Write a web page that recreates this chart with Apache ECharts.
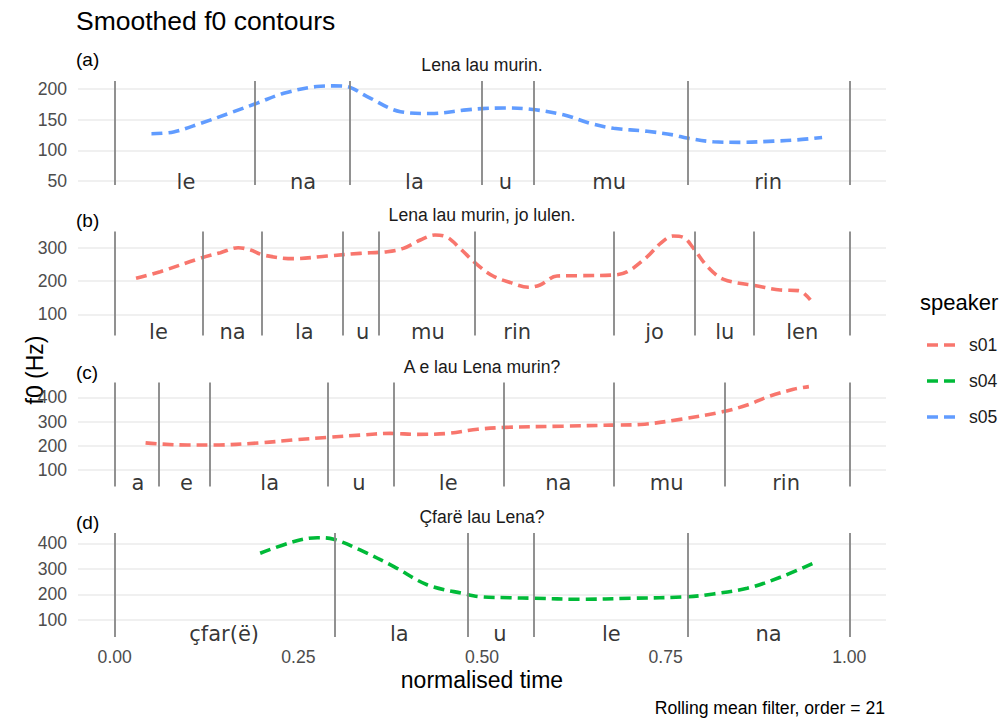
<!DOCTYPE html>
<html>
<head>
<meta charset="utf-8">
<title>Smoothed f0 contours</title>
<script src="https://cdn.jsdelivr.net/npm/echarts@6/dist/echarts.min.js"></script>
<style>
  html, body { margin: 0; padding: 0; background: #ffffff; }
  #chart { width: 1005px; height: 718px; }
</style>
</head>
<body>
<div id="chart"></div>
<script>
// ---- data -----------------------------------------------------------------
// speakers and their colours
const speakers = ['s01', 's04', 's05'];
const speakerColors = { s01: '#F8766D', s04: '#00BA38', s05: '#619CFF' };

// sentence of each panel
const sentences = ['Lena lau murin.', 'Lena lau murin, jo lulen.', 'A e lau Lena murin?', 'Çfarë lau Lena?'];
const panelTags = ['(a)', '(b)', '(c)', '(d)'];
const panelSpeakers = ['s05', 's01', 's01', 's04'];

// smoothed f0 contours: [normalised time, f0 in Hz]
const f0A = [[0.050,127],[0.080,130],[0.117,144],[0.162,163],[0.194,177],[0.230,193],[0.275,204],[0.298,205],[0.316,204],[0.343,188],[0.389,163],[0.430,160],[0.479,166],[0.500,168],[0.530,169],[0.566,167],[0.611,158],[0.647,144],[0.679,136],[0.725,131],[0.761,125],[0.779,120],[0.815,114],[0.852,113],[0.897,115],[0.929,117],[0.963,121]];
const f0B = [[0.029,208],[0.062,228],[0.116,268],[0.144,285],[0.168,300],[0.185,293],[0.202,278],[0.243,267],[0.289,275],[0.334,283],[0.371,288],[0.393,298],[0.416,323],[0.436,338],[0.453,331],[0.470,298],[0.493,250],[0.515,215],[0.539,195],[0.563,181],[0.579,188],[0.602,215],[0.634,216],[0.679,218],[0.698,228],[0.725,273],[0.743,313],[0.760,335],[0.774,331],[0.788,298],[0.807,243],[0.829,205],[0.875,185],[0.906,173],[0.931,171],[0.947,143]];
const f0C = [[0.042,212],[0.063,207],[0.099,203],[0.133,203],[0.198,212],[0.243,224],[0.291,235],[0.334,244],[0.375,251],[0.412,247],[0.453,251],[0.494,268],[0.533,276],[0.611,281],[0.675,285],[0.716,288],[0.770,309],[0.827,340],[0.861,368],[0.892,405],[0.924,433],[0.945,444]];
const f0D = [[0.198,361],[0.243,406],[0.276,422],[0.298,416],[0.334,374],[0.380,309],[0.426,237],[0.477,202],[0.498,191],[0.539,187],[0.571,185],[0.634,181],[0.702,185],[0.781,191],[0.815,202],[0.861,224],[0.906,267],[0.951,322]];

// syllable boundaries (normalised time)
const boundsA = [0, 0.194, 0.319, 0.497, 0.567, 0.779, 1.0];
const boundsB = [0, 0.119, 0.202, 0.314, 0.361, 0.492, 0.681, 0.789, 0.872, 1.0];
const boundsC = [0, 0.063, 0.132, 0.290, 0.375, 0.533, 0.675, 0.828, 1.0];
const boundsD = [0, 0.298, 0.477, 0.572, 0.780, 1.0];

// syllables: [label, onset, offset]
const syllA = [['le',0,0.194],['na',0.194,0.319],['la',0.319,0.497],['u',0.497,0.567],['mu',0.567,0.779],['rin',0.779,1.0]];
const syllB = [['le',0,0.119],['na',0.119,0.202],['la',0.202,0.314],['u',0.314,0.361],['mu',0.361,0.492],['rin',0.492,0.604],['jo',0.681,0.789],['lu',0.789,0.872],['len',0.872,1.0]];
const syllC = [['a',0,0.063],['e',0.063,0.132],['la',0.132,0.290],['u',0.290,0.375],['le',0.375,0.533],['na',0.533,0.675],['mu',0.675,0.828],['rin',0.828,1.0]];
const syllD = [['çfar(ë)',0,0.298],['la',0.298,0.477],['u',0.477,0.572],['le',0.572,0.780],['na',0.780,1.0]];

// height at which syllable labels sit (Hz)
const labelF0 = 50;

// tick labels
const yTicksA = [50, 100, 150, 200];
const yTicksB = [100, 200, 300];
const yTicksC = [100, 200, 300, 400];
const yTicksD = [100, 200, 300, 400];
const xTicks = [0, 0.25, 0.5, 0.75, 1.0];

// ---- layout ---------------------------------------------------------------
const SANS = '"Liberation Sans", Arial, Helvetica, sans-serif';
const SYL_FONT = '"DejaVu Sans", sans-serif';
const gridTops = [81, 231.5, 382.5, 533];
const gridHeight = 104;
const gridLeft = 78, gridRight = 119;
const yRanges = [[43.5, 213.0], [36.3, 348.6], [31.9, 461.1], [33.5, 440.3]];
const tagY = [59, 220, 372, 522];
const sentenceY = [65, 215, 367, 517];

const curves = [f0A, f0B, f0C, f0D];
const bounds = [boundsA, boundsB, boundsC, boundsD];
const sylls = [syllA, syllB, syllC, syllD];
const yTicks = [yTicksA, yTicksB, yTicksC, yTicksD];

const DASH = [11, 6];
// legend key: two dashes of the contour line
const DASH_ICON = 'path://M0,0H11V3.6H0Z M17,0H28V3.6H17Z';

const grids = [], xAxes = [], yAxes = [], series = [], titles = [];

titles.push({
  text: 'Smoothed f0 contours', left: 76, top: 7, padding: 0,
  textStyle: { fontFamily: SANS, fontSize: 26.5, fontWeight: 'normal', color: '#000000' }
});

for (let i = 0; i < 4; i++) {
  const last = i === 3;
  grids.push({ left: gridLeft, right: gridRight, top: gridTops[i], height: gridHeight, containLabel: false });
  xAxes.push({
    gridIndex: i, type: 'value', min: -0.05, max: 1.05,
    axisLine: { show: false }, splitLine: { show: false },
    axisTick: { show: false, customValues: xTicks },
    axisLabel: {
      show: last, customValues: xTicks, margin: 11,
      formatter: v => v.toFixed(2),
      color: '#4D4D4D', fontFamily: SANS, fontSize: 17.6
    },
    name: last ? 'normalised time' : '',
    nameLocation: 'middle', nameGap: 31,
    nameTextStyle: { fontFamily: SANS, fontSize: 23, color: '#000000' }
  });
  yAxes.push({
    gridIndex: i, type: 'value', min: yRanges[i][0], max: yRanges[i][1],
    axisLine: { show: false },
    axisTick: { show: false, customValues: yTicks[i] },
    axisLabel: { customValues: yTicks[i], margin: 11, color: '#4D4D4D', fontFamily: SANS, fontSize: 17.6 },
    splitLine: { show: true, lineStyle: { color: '#EBEBEB', width: 1.6 } }
  });

  // syllable labels and boundary lines
  series.push({
    type: 'scatter', xAxisIndex: i, yAxisIndex: i, silent: true,
    symbol: 'circle', symbolSize: 1, itemStyle: { color: 'rgba(0,0,0,0)' },
    data: sylls[i].map(s => ({ name: s[0], value: [(s[1] + s[2]) / 2, labelF0] })),
    label: {
      show: true, position: 'inside', formatter: p => p.name, offset: [0, 1],
      fontFamily: SYL_FONT, fontSize: 21, color: '#000000'
    },
    markLine: {
      silent: true, symbol: ['none', 'none'], animation: false,
      label: { show: false },
      lineStyle: { color: '#858585', width: 1.8, type: 'solid' },
      data: bounds[i].map(b => ({ xAxis: b }))
    },
    z: 3
  });

  // f0 contour
  const spk = panelSpeakers[i];
  series.push({
    name: spk, type: 'line', xAxisIndex: i, yAxisIndex: i,
    data: curves[i], smooth: 0.35, symbol: 'none', showSymbol: false,
    color: speakerColors[spk],
    itemStyle: { color: speakerColors[spk] },
    lineStyle: { color: speakerColors[spk], width: 3.6, type: DASH, cap: 'butt' },
    z: 4
  });

  titles.push({
    text: panelTags[i], left: 76, top: tagY[i] - 9.5, padding: 0,
    textStyle: { fontFamily: SANS, fontSize: 19, fontWeight: 'normal', color: '#000000' }
  });
  titles.push({
    text: sentences[i], left: gridLeft + (1005 - gridLeft - gridRight) / 2, top: sentenceY[i] - 9,
    textAlign: 'center', padding: 0,
    textStyle: { fontFamily: SANS, fontSize: 17.6, fontWeight: 'normal', color: '#1A1A1A' }
  });
}

titles.push({
  text: 'speaker', left: 920, top: 291, padding: 0,
  textStyle: { fontFamily: SANS, fontSize: 22, fontWeight: 'normal', color: '#000000' }
});
titles.push({
  text: 'Rolling mean filter, order = 21', right: 1005 - 885, top: 699, padding: 0,
  textStyle: { fontFamily: SANS, fontSize: 17.6, fontWeight: 'normal', color: '#000000' }
});

const option = {
  animation: false,
  backgroundColor: '#ffffff',
  title: titles,
  grid: grids,
  xAxis: xAxes,
  yAxis: yAxes,
  series: series,
  legend: {
    data: speakers.map(s => ({ name: s, icon: DASH_ICON })),
    orient: 'vertical', left: 922, top: 331,
    itemWidth: 28, itemHeight: 3.6, itemGap: 18, selectedMode: false,
    symbolKeepAspect: false,
    textStyle: { fontFamily: SANS, fontSize: 17.6, color: '#1A1A1A', padding: [0, 0, 0, 9], lineHeight: 18 }
  },
  graphic: [{
    type: 'text', x: 35, y: 370, rotation: Math.PI / 2,
    style: { text: 'f0 (Hz)', font: '23px ' + SANS, fill: '#000000', textAlign: 'center', textVerticalAlign: 'middle' }
  }]
};

const chart = echarts.init(document.getElementById('chart'), null, { renderer: 'svg' });
chart.setOption(option);
</script>
</body>
</html>
